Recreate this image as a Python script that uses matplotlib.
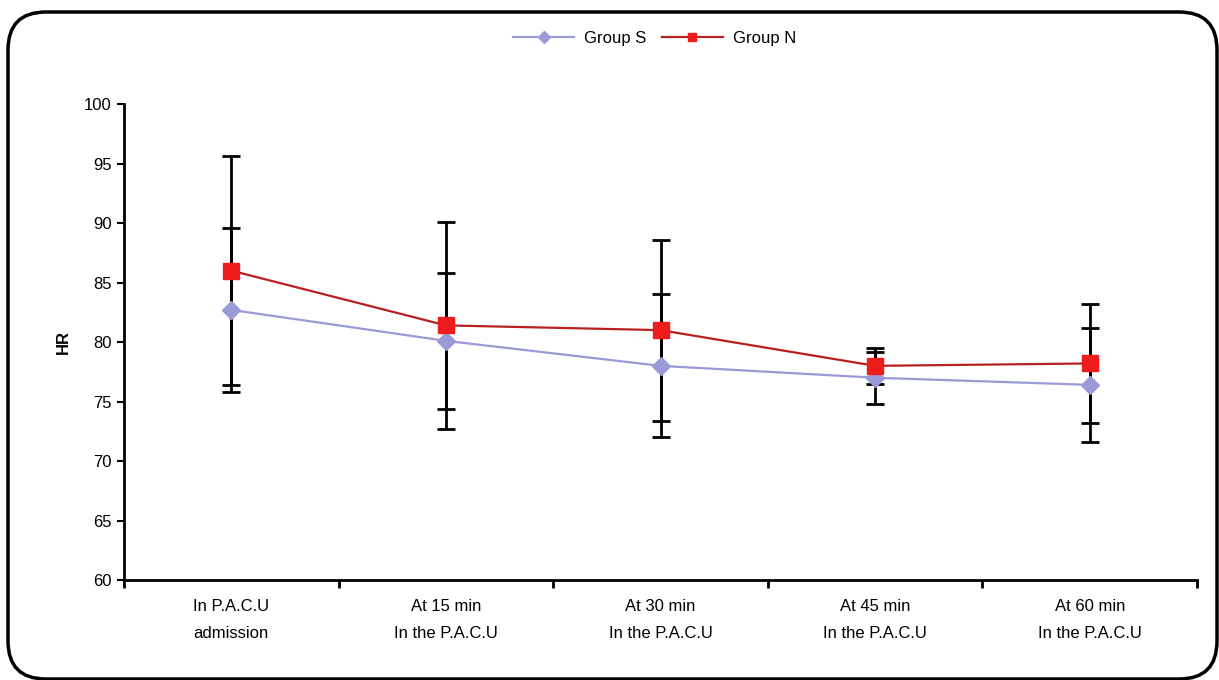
import numpy as np
import matplotlib.pyplot as plt
from matplotlib.patches import FancyBboxPatch

plt.rcParams['font.family'] = ['Liberation Sans', 'DejaVu Sans']

categories = ["In P.A.C.U\nadmission", "At 15 min\nIn the P.A.C.U", "At 30 min\nIn the P.A.C.U",
              "At 45 min\nIn the P.A.C.U", "At 60 min\nIn the P.A.C.U"]
group_s = [82.7, 80.1, 78.0, 77.0, 76.4]
group_s_sd = [6.9, 5.7, 6.0, 2.2, 4.8]
group_n = [86.0, 81.4, 81.0, 78.0, 78.2]
group_n_sd = [9.6, 8.7, 7.6, 1.5, 5.0]
yticks = [60, 65, 70, 75, 80, 85, 90, 95, 100]

fig = plt.figure(figsize=(12.19, 6.8), dpi=100)
ax = fig.add_axes([0.1017, 0.147, 0.8803, 0.70])

x = np.arange(len(categories))
s_col = "#9a9ad8"
n_line = "#b82020"
n_mark = "#ee1c1c"

ax.errorbar(x, group_s, yerr=group_s_sd, fmt="none", ecolor="black", elinewidth=2,
            capsize=6.5, capthick=2, zorder=2)
ax.errorbar(x, group_n, yerr=group_n_sd, fmt="none", ecolor="black", elinewidth=2,
            capsize=6.5, capthick=2, zorder=2)
ax.plot(x, group_s, color=s_col, lw=1.6, marker="D", ms=9, mfc=s_col, mec=s_col,
        label="Group S", zorder=3)
ax.plot(x, group_n, color=n_line, lw=1.6, marker="s", ms=11, mfc=n_mark, mec=n_mark,
        label="Group N", zorder=4)

ax.set_xlim(-0.5, len(categories) - 0.5)
ax.set_ylim(60, 100)
ax.set_yticks(yticks)
ax.set_xticks(x)
ax.set_xticklabels(categories, fontsize=12, linespacing=2.0)
ax.set_xticks(np.arange(-0.5, len(categories), 1), minor=True)
ax.tick_params(axis="x", which="major", length=0, pad=14)
ax.tick_params(axis="x", which="minor", length=6, width=2, direction="out")
ax.tick_params(axis="y", length=5, width=1.5, direction="out", labelsize=12, pad=4)
for side in ["top", "right"]:
    ax.spines[side].set_visible(False)
for side in ["left", "bottom"]:
    ax.spines[side].set_linewidth(2)
ax.set_ylabel("HR", fontsize=12, fontweight="bold", labelpad=9)

leg = fig.legend(loc="center", bbox_to_anchor=(0.537, 0.944), ncol=2, frameon=False,
                 fontsize=12, handlelength=3.7, columnspacing=0.9, handletextpad=0.6)
for line in leg.get_lines():
    line.set_markersize(6)

border = FancyBboxPatch((0.08, 0.01), 12.09, 6.67, boxstyle="round,pad=0,rounding_size=0.38",
                        transform=fig.dpi_scale_trans, fill=False, lw=2.5, ec="black")
fig.patches.append(border)

fig.savefig("out.png", dpi=100)
